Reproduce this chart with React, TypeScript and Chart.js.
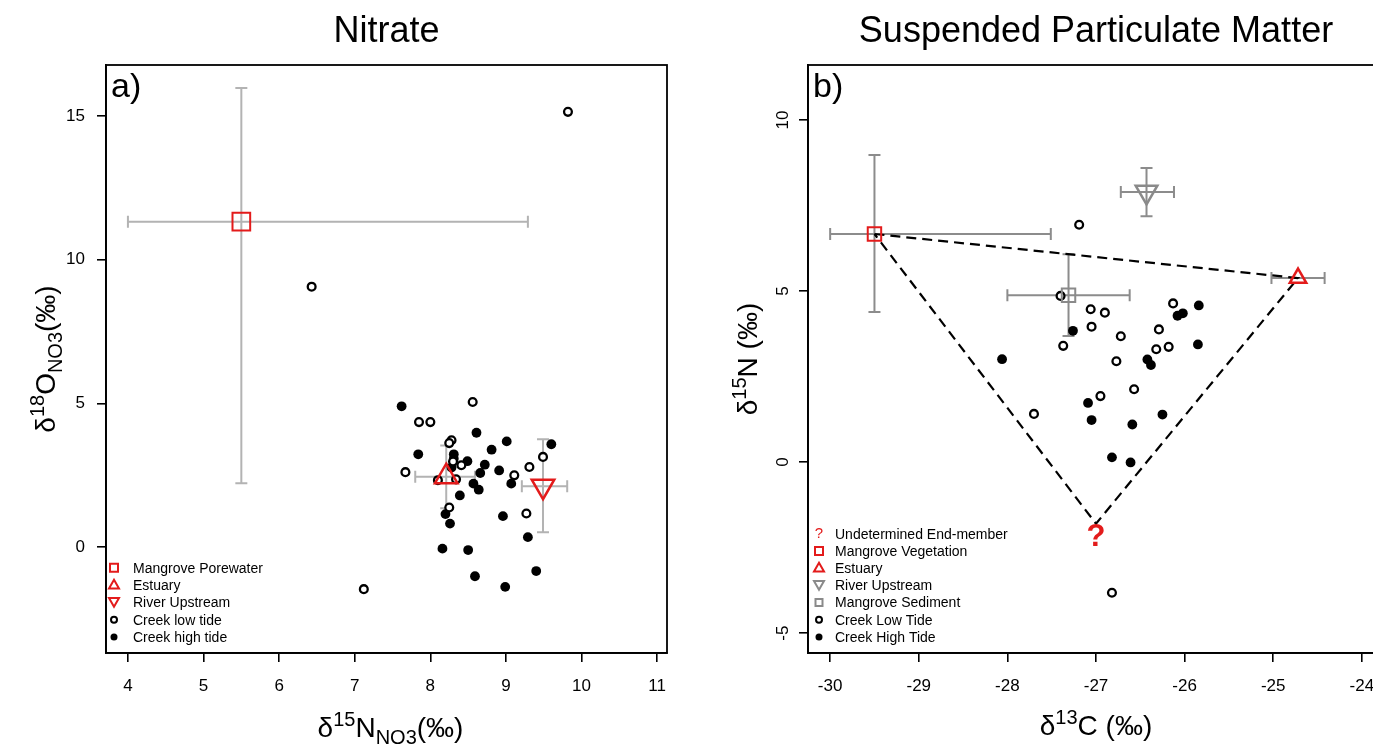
import React, { useEffect, useRef } from 'react';
import { Chart, registerables } from 'chart.js';
Chart.register(...registerables);

const FONT = '"Liberation Sans", Arial, sans-serif';
const RED = '#e31b1b';

// ---------- Panel a: Nitrate ----------
const nitLowX = [9.82, 6.43, 7.12, 8.56, 7.85, 8.0, 8.28, 8.25, 8.41, 7.67, 9.11, 9.31, 9.49, 8.10, 8.34, 8.25, 9.27, 8.30];
const nitLowY = [15.14, 9.06, -1.46, 5.05, 4.35, 4.35, 3.72, 3.62, 2.85, 2.61, 2.5, 2.79, 3.14, 2.33, 2.36, 1.38, 1.17, 2.98];
const nitHighX = [7.62, 8.61, 9.01, 9.60, 7.84, 8.31, 8.81, 8.49, 8.31, 8.72, 8.28, 8.66, 8.91, 9.07, 8.57, 8.64, 8.39, 8.20, 8.26, 8.96, 9.29, 8.16, 8.50, 9.40, 8.59, 8.99];
const nitHighY = [4.90, 3.98, 3.68, 3.58, 3.23, 3.23, 3.39, 2.99, 3.08, 2.87, 2.77, 2.58, 2.67, 2.21, 2.21, 2.0, 1.8, 1.15, 0.82, 1.08, 0.35, -0.05, -0.1, -0.83, -1.01, -1.38];
const nitEndNames = ['Mangrove Porewater', 'Estuary', 'River Upstream'];
const nitEndX = [5.5, 8.21, 9.49];
const nitEndY = [11.32, 2.45, 2.12];
const nitEndXLo = [4.0, 7.80, 9.21];
const nitEndXHi = [9.29, 8.59, 9.81];
const nitEndYLo = [2.22, 1.35, 0.52];
const nitEndYHi = [15.97, 3.54, 3.75];
const nitXTicks = [4, 5, 6, 7, 8, 9, 10, 11];
const nitYTicks = [0, 5, 10, 15];

// ---------- Panel b: Suspended Particulate Matter ----------
const spmLowX = [-27.19, -27.40, -27.06, -26.90, -27.05, -26.72, -27.37, -26.77, -26.57, -26.95, -27.70, -26.13, -26.29, -26.32, -26.18, -26.82];
const spmLowY = [6.94, 4.86, 4.47, 4.37, 3.96, 3.68, 3.40, 2.95, 2.13, 1.93, 1.41, 4.64, 3.88, 3.30, 3.37, -3.82];
const spmHighX = [-25.84, -26.02, -26.08, -25.85, -26.42, -26.38, -27.09, -27.05, -26.59, -26.25, -26.82, -26.61, -27.26, -28.06];
const spmHighY = [4.58, 4.35, 4.28, 3.44, 3.0, 2.84, 1.73, 1.23, 1.10, 1.39, 0.14, -0.01, 3.84, 3.01];
const spmEndNames = ['Mangrove Vegetation', 'Estuary', 'River Upstream', 'Mangrove Sediment'];
const spmEndX = [-29.5, -24.72, -26.43, -27.31];
const spmEndY = [6.67, 5.38, 7.90, 4.88];
const spmEndXLo = [-30.0, -25.02, -26.72, -28.0];
const spmEndXHi = [-27.51, -24.42, -26.12, -26.62];
const spmEndYLo = [4.39, 5.38, 7.19, 3.69];
const spmEndYHi = [8.98, 5.38, 8.6, 6.08];
const undetX = [-27.0];
const undetY = [-1.8];
const spmXTicks = [-30, -29, -28, -27, -26, -25, -24];
const spmYTicks = [-5, 0, 5, 10];

type Part = { t: string; size: number; dy?: number };

function drawRich(ctx: CanvasRenderingContext2D, parts: Part[], x: number, y: number, rotate: boolean) {
  let total = 0;
  const widths = parts.map((p) => {
    ctx.font = `${p.size}px ${FONT}`;
    const w = ctx.measureText(p.t).width;
    total += w;
    return w;
  });
  ctx.save();
  ctx.translate(x, y);
  if (rotate) ctx.rotate(-Math.PI / 2);
  ctx.textAlign = 'left';
  ctx.textBaseline = 'alphabetic';
  ctx.fillStyle = '#000';
  let cx = -total / 2;
  parts.forEach((p, i) => {
    ctx.font = `${p.size}px ${FONT}`;
    ctx.fillText(p.t, cx, p.dy || 0);
    cx += widths[i];
  });
  ctx.restore();
}

function drawMarker(ctx: CanvasRenderingContext2D, style: string, x: number, y: number, s: number, color: string) {
  ctx.save();
  ctx.strokeStyle = color;
  ctx.fillStyle = color;
  ctx.lineWidth = 2;
  ctx.beginPath();
  if (style === 'rect') {
    ctx.rect(x - s / 2, y - s / 2, s, s);
    ctx.stroke();
  } else if (style === 'tri') {
    const h = s * 0.87;
    ctx.moveTo(x, y - h / 2 - 1);
    ctx.lineTo(x + s / 2, y + h / 2 - 1);
    ctx.lineTo(x - s / 2, y + h / 2 - 1);
    ctx.closePath();
    ctx.stroke();
  } else if (style === 'triDown') {
    const h = s * 0.87;
    ctx.moveTo(x, y + h / 2);
    ctx.lineTo(x + s / 2, y - h / 2);
    ctx.lineTo(x - s / 2, y - h / 2);
    ctx.closePath();
    ctx.stroke();
  } else if (style === 'open') {
    ctx.arc(x, y, s / 2, 0, Math.PI * 2);
    ctx.stroke();
  } else if (style === 'filled') {
    ctx.arc(x, y, s / 2, 0, Math.PI * 2);
    ctx.fill();
  } else if (style === 'q') {
    ctx.font = `15px ${FONT}`;
    ctx.textAlign = 'center';
    ctx.textBaseline = 'middle';
    ctx.fillText('?', x, y);
  }
  ctx.restore();
}

const decorPlugin = {
  id: 'decor',
  beforeDatasetsDraw(chart: any, _a: any, opts: any) {
    const ctx: CanvasRenderingContext2D = chart.ctx;
    const xs = chart.scales.x;
    const ys = chart.scales.y;
    const eb = opts.errorBars;
    if (!eb) return;
    ctx.save();
    ctx.strokeStyle = eb.color;
    ctx.lineWidth = eb.width;
    const c = eb.cap;
    for (let i = 0; i < eb.x.length; i++) {
      const px = xs.getPixelForValue(eb.x[i]);
      const py = ys.getPixelForValue(eb.y[i]);
      const x1 = xs.getPixelForValue(eb.xlo[i]);
      const x2 = xs.getPixelForValue(eb.xhi[i]);
      const y1 = ys.getPixelForValue(eb.ylo[i]);
      const y2 = ys.getPixelForValue(eb.yhi[i]);
      ctx.beginPath();
      if (eb.xlo[i] !== eb.xhi[i]) {
        ctx.moveTo(x1, py); ctx.lineTo(x2, py);
        ctx.moveTo(x1, py - c); ctx.lineTo(x1, py + c);
        ctx.moveTo(x2, py - c); ctx.lineTo(x2, py + c);
      }
      if (eb.ylo[i] !== eb.yhi[i]) {
        ctx.moveTo(px, y1); ctx.lineTo(px, y2);
        ctx.moveTo(px - c, y1); ctx.lineTo(px + c, y1);
        ctx.moveTo(px - c, y2); ctx.lineTo(px + c, y2);
      }
      ctx.stroke();
    }
    ctx.restore();
  },
  afterDraw(chart: any, _a: any, opts: any) {
    const ctx: CanvasRenderingContext2D = chart.ctx;
    const ca = chart.chartArea;
    const xs = chart.scales.x;
    const ys = chart.scales.y;
    ctx.save();
    ctx.strokeStyle = '#000';
    ctx.lineWidth = 1.8;
    ctx.strokeRect(ca.left, ca.top, ca.right - ca.left, ca.bottom - ca.top);
    ctx.restore();
    const cx = (ca.left + ca.right) / 2;
    const cy = (ca.top + ca.bottom) / 2;
    ctx.save();
    ctx.fillStyle = '#000';
    ctx.font = `36px ${FONT}`;
    ctx.textAlign = 'center';
    ctx.textBaseline = 'alphabetic';
    ctx.fillText(opts.title, cx, 42);
    ctx.font = `34px ${FONT}`;
    ctx.textAlign = 'left';
    ctx.fillText(opts.letter, ca.left + 5, ca.top + 32);
    ctx.restore();
    drawRich(ctx, opts.xTitle, cx + (opts.xTitleShift || 0), ca.bottom + opts.xTitleOffset, false);
    drawRich(ctx, opts.yTitle, ca.left - 51, cy, true);
    if (opts.question) {
      const q = opts.question;
      ctx.save();
      ctx.fillStyle = RED;
      ctx.font = `bold 31px ${FONT}`;
      ctx.textAlign = 'center';
      ctx.textBaseline = 'alphabetic';
      ctx.fillText('?', xs.getPixelForValue(q.x), ys.getPixelForValue(q.y) + 22);
      ctx.restore();
    }
    const lg = opts.legend;
    const n = lg.items.length;
    ctx.save();
    for (let i = 0; i < n; i++) {
      const it = lg.items[i];
      const y = ca.bottom - lg.bottom - (n - 1 - i) * lg.rowH;
      drawMarker(ctx, it.style, ca.left + lg.mx, y, it.size, it.color);
      ctx.fillStyle = '#000';
      ctx.font = `14px ${FONT}`;
      ctx.textAlign = 'left';
      ctx.textBaseline = 'middle';
      ctx.fillText(it.label, ca.left + lg.tx, y + 1);
    }
    ctx.restore();
  },
};

function pts(xs: number[], ys: number[]) {
  return xs.map((x, i) => ({ x, y: ys[i] }));
}

function makeScales(o: any) {
  const tickFont = { family: FONT, size: 17 };
  return {
    x: {
      type: 'linear',
      min: o.xmin,
      max: o.xmax,
      afterBuildTicks: (s: any) => { s.ticks = o.xTicks.map((v: number) => ({ value: v })); },
      afterFit: (s: any) => { s.height = o.xH; },
      ticks: { font: tickFont, color: '#000', padding: 14, includeBounds: false, maxRotation: 0 },
      grid: { display: true, drawOnChartArea: false, drawTicks: true, tickLength: 9, color: '#000', lineWidth: 1.6 },
      border: { display: true, color: '#000', width: 1.8 },
    },
    y: {
      type: 'linear',
      min: o.ymin,
      max: o.ymax,
      afterBuildTicks: (s: any) => { s.ticks = o.yTicks.map((v: number) => ({ value: v })); },
      afterFit: (s: any) => { s.width = o.yW; },
      ticks: o.yRot
        ? { font: tickFont, color: '#000', padding: 6, minRotation: 90, maxRotation: 90, crossAlign: 'center' }
        : { font: tickFont, color: '#000', padding: 12 },
      grid: { display: true, drawOnChartArea: false, drawTicks: true, tickLength: 9, color: '#000', lineWidth: 1.6 },
      border: { display: true, color: '#000', width: 1.8 },
    },
  };
}

function buildNitrate(canvas: HTMLCanvasElement) {
  const end = (i: number) => [{ x: nitEndX[i], y: nitEndY[i] }];
  return new Chart(canvas, {
    type: 'scatter',
    data: {
      datasets: [
        { label: nitEndNames[0], data: end(0), pointStyle: 'rect', pointRadius: 12.5, borderColor: RED, backgroundColor: 'rgba(0,0,0,0)', borderWidth: 2 },
        { label: nitEndNames[1], data: end(1), pointStyle: 'triangle', pointRadius: 13, borderColor: RED, backgroundColor: 'rgba(0,0,0,0)', borderWidth: 2.5 },
        { label: nitEndNames[2], data: end(2), pointStyle: 'triangle', rotation: 180, pointRadius: 13, borderColor: RED, backgroundColor: 'rgba(0,0,0,0)', borderWidth: 2.5 },
        { label: 'Creek low tide', data: pts(nitLowX, nitLowY), pointStyle: 'circle', pointRadius: 3.9, borderColor: '#000', backgroundColor: '#fff', borderWidth: 2.3 },
        { label: 'Creek high tide', data: pts(nitHighX, nitHighY), pointStyle: 'circle', pointRadius: 4.9, borderColor: '#000', backgroundColor: '#000', borderWidth: 0 },
      ],
    } as any,
    options: {
      responsive: false,
      animation: false,
      layout: { padding: { left: 0, top: 65, right: 19, bottom: 0 } },
      scales: makeScales({ xmin: 3.71, xmax: 11.13, ymin: -3.68, ymax: 16.77, xTicks: nitXTicks, yTicks: nitYTicks, xH: 93, yW: 106, yRot: false }) as any,
      plugins: {
        legend: { display: false },
        tooltip: { enabled: false },
        decor: {
          title: 'Nitrate',
          letter: 'a)',
          xTitleOffset: 84,
          xTitleShift: 4,
          xTitle: [
            { t: 'δ', size: 28 }, { t: '15', size: 20, dy: -11 }, { t: 'N', size: 28 }, { t: 'NO3', size: 20, dy: 7 }, { t: '(‰)', size: 28 },
          ],
          yTitle: [
            { t: 'δ', size: 28 }, { t: '18', size: 20, dy: -11 }, { t: 'O', size: 28 }, { t: 'NO3', size: 20, dy: 7 }, { t: '(‰)', size: 28 },
          ],
          errorBars: { x: nitEndX, y: nitEndY, xlo: nitEndXLo, xhi: nitEndXHi, ylo: nitEndYLo, yhi: nitEndYHi, color: '#b3b3b3', width: 2, cap: 6 },
          legend: {
            mx: 8, tx: 27, rowH: 17.3, bottom: 16,
            items: [
              { label: nitEndNames[0], style: 'rect', size: 8, color: RED },
              { label: nitEndNames[1], style: 'tri', size: 10, color: RED },
              { label: nitEndNames[2], style: 'triDown', size: 10, color: RED },
              { label: 'Creek low tide', style: 'open', size: 6, color: '#000' },
              { label: 'Creek high tide', style: 'filled', size: 7, color: '#000' },
            ],
          },
        },
      } as any,
    },
    plugins: [decorPlugin as any],
  });
}

function buildSpm(canvas: HTMLCanvasElement) {
  const end = (i: number) => [{ x: spmEndX[i], y: spmEndY[i] }];
  const tri = [
    { x: spmEndX[0], y: spmEndY[0] },
    { x: spmEndX[1], y: spmEndY[1] },
    { x: undetX[0], y: undetY[0] },
    { x: spmEndX[0], y: spmEndY[0] },
  ];
  return new Chart(canvas, {
    type: 'scatter',
    data: {
      datasets: [
        { label: spmEndNames[0], data: end(0), pointStyle: 'rect', pointRadius: 9.5, borderColor: RED, backgroundColor: 'rgba(0,0,0,0)', borderWidth: 2 },
        { label: spmEndNames[1], data: end(1), pointStyle: 'triangle', pointRadius: 9.5, borderColor: RED, backgroundColor: 'rgba(0,0,0,0)', borderWidth: 2.5 },
        { label: spmEndNames[2], data: end(2), pointStyle: 'triangle', rotation: 180, pointRadius: 12.5, borderColor: '#8a8a8a', backgroundColor: 'rgba(0,0,0,0)', borderWidth: 2.5 },
        { label: spmEndNames[3], data: end(3), pointStyle: 'rect', pointRadius: 9.5, borderColor: '#8a8a8a', backgroundColor: 'rgba(0,0,0,0)', borderWidth: 2 },
        { label: 'mixing', data: tri, showLine: true, pointRadius: 0, borderColor: '#000', borderWidth: 2.2, borderDash: [10, 6], fill: false },
        { label: 'Creek Low Tide', data: pts(spmLowX, spmLowY), pointStyle: 'circle', pointRadius: 3.9, borderColor: '#000', backgroundColor: '#fff', borderWidth: 2.3 },
        { label: 'Creek High Tide', data: pts(spmHighX, spmHighY), pointStyle: 'circle', pointRadius: 4.9, borderColor: '#000', backgroundColor: '#000', borderWidth: 0 },
      ],
    } as any,
    options: {
      responsive: false,
      animation: false,
      layout: { padding: { left: 0, top: 65, right: 22, bottom: 0 } },
      scales: makeScales({ xmin: -30.25, xmax: -23.75, ymin: -5.58, ymax: 11.61, xTicks: spmXTicks, yTicks: spmYTicks, xH: 93, yW: 122, yRot: true }) as any,
      plugins: {
        legend: { display: false },
        tooltip: { enabled: false },
        decor: {
          title: 'Suspended Particulate Matter',
          letter: 'b)',
          xTitleOffset: 82,
          xTitle: [
            { t: 'δ', size: 28 }, { t: '13', size: 20, dy: -11 }, { t: 'C (‰)', size: 28 },
          ],
          yTitle: [
            { t: 'δ', size: 28 }, { t: '15', size: 20, dy: -11 }, { t: 'N (‰)', size: 28 },
          ],
          question: { x: undetX[0], y: undetY[0] },
          errorBars: { x: spmEndX, y: spmEndY, xlo: spmEndXLo, xhi: spmEndXHi, ylo: spmEndYLo, yhi: spmEndYHi, color: '#8c8c8c', width: 2, cap: 6 },
          legend: {
            mx: 11, tx: 27, rowH: 17.2, bottom: 16,
            items: [
              { label: 'Undetermined End-member', style: 'q', size: 8, color: RED },
              { label: spmEndNames[0], style: 'rect', size: 8, color: RED },
              { label: spmEndNames[1], style: 'tri', size: 10, color: RED },
              { label: spmEndNames[2], style: 'triDown', size: 10, color: '#8a8a8a' },
              { label: spmEndNames[3], style: 'rect', size: 7, color: '#8a8a8a' },
              { label: 'Creek Low Tide', style: 'open', size: 6, color: '#000' },
              { label: 'Creek High Tide', style: 'filled', size: 7, color: '#000' },
            ],
          },
        },
      } as any,
    },
    plugins: [decorPlugin as any],
  });
}

export default function App() {
  const refA = useRef<HTMLCanvasElement>(null);
  const refB = useRef<HTMLCanvasElement>(null);
  useEffect(() => {
    const a = buildNitrate(refA.current!);
    const b = buildSpm(refB.current!);
    return () => { a.destroy(); b.destroy(); };
  }, []);
  return (
    <div style={{ position: 'absolute', left: 0, top: 0, width: 1373, height: 746, overflow: 'hidden', background: '#fff' }}>
      <canvas ref={refA} width={686} height={746} style={{ position: 'absolute', left: 0, top: 0 }} />
      <canvas ref={refB} width={720} height={746} style={{ position: 'absolute', left: 686, top: 0 }} />
    </div>
  );
}
